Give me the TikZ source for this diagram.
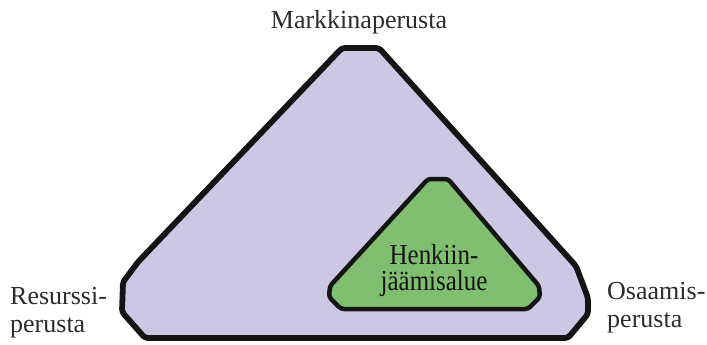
\documentclass[tikz,border=0pt]{standalone}
\usepackage{fontspec}
\setmainfont{Liberation Serif}
\usepackage{graphicx}
\definecolor{lav}{RGB}{204,199,227}
\definecolor{grn}{RGB}{128,190,112}
\definecolor{ink}{RGB}{20,20,20}
\begin{document}
\begin{tikzpicture}[x=1pt,y=-1pt,
  outerlbl/.style={font=\fontsize{26}{28}\selectfont, text=ink!90, inner sep=0pt},
  innerlbl/.style={font=\fontsize{29}{26}\selectfont, text=ink, inner sep=0pt, align=center},
  shapebox/.style={draw=ink, line join=round, rounded corners=3pt}]
\useasboundingbox (0,0) rectangle (707,345);
\path[shapebox, fill=lav, line width=5.8pt]
  (342,48) -- (379,48) -- (576,266) -- (588,298) -- (588,314) -- (568,338)
  -- (145,338) -- (122,312) -- (123,282) -- (138,262) -- cycle;
\path[shapebox, fill=grn, line width=4.5pt]
  (428,179) -- (448,179) -- (539,286) -- (540,297) -- (528,309)
  -- (341,309) -- (329,297) -- (330,286) -- cycle;
\node[outerlbl, anchor=base] (top) at (359,29) {Markkinaperusta};
\node[outerlbl, anchor=base west] (res1) at (10,304) {Resurssi-};
\node[outerlbl, anchor=base west] (res2) at (10,332) {perusta};
\node[outerlbl, anchor=base west] (osa1) at (607,299) {Osaamis-};
\node[outerlbl, anchor=base west] (osa2) at (607,327) {perusta};
\node[innerlbl] (hen) at (434,271) {\scalebox{0.86}[1]{Henkiin-}\\\scalebox{0.86}[1]{jäämisalue}};
\end{tikzpicture}
\end{document}
